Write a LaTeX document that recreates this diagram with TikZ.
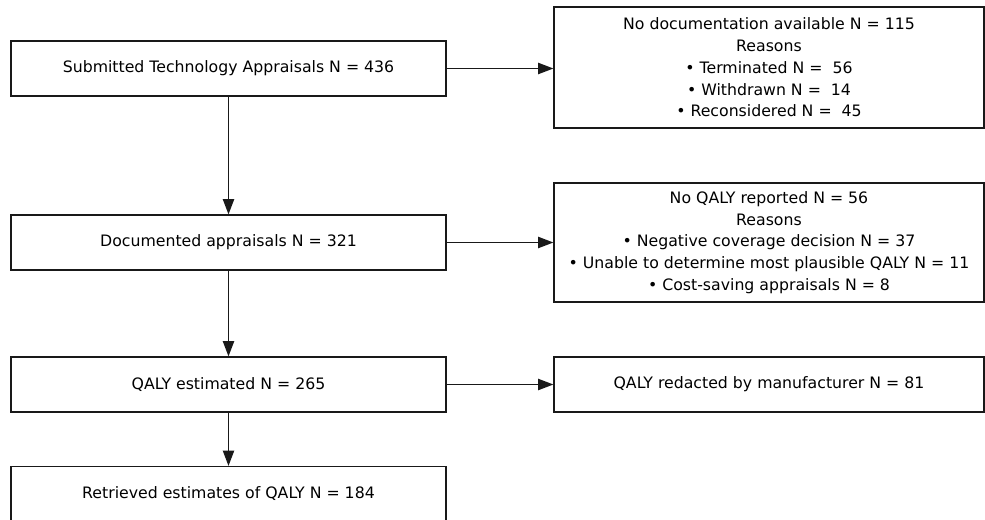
\documentclass[tikz,border=0pt]{standalone}
\usepackage{fontspec}
\setmainfont{DejaVu Sans}
\usetikzlibrary{arrows.meta}

\begin{document}
\begin{tikzpicture}[x=0.75pt,y=-0.75pt,
  box/.style={draw=black!90,line width=0.9pt,fill=white,align=center,
    inner sep=0pt,font=\fontsize{11.8}{16.3}\selectfont},
  leftbox/.style={box,minimum width=326.25pt,minimum height=41.25pt},
  flow/.style={draw=black!90,line width=0.9pt,-{Triangle[length=11.5pt,width=8.5pt]}}]
\useasboundingbox (0,0) rectangle (985,520);
% left column
\node[leftbox] (sub) at (228.5,68.5) {Submitted Technology Appraisals N = 436};
\node[leftbox] (doc) at (228.5,242.5) {Documented appraisals N = 321};
\node[leftbox] (est) at (228.5,384.5) {QALY estimated N = 265};
\node[leftbox] (ret) at (228.5,494) {Retrieved estimates of QALY N = 184};
% right column
\node[box,minimum width=322.5pt,minimum height=90.75pt] (nodoc) at (769,67.5) {No documentation available N = 115\\Reasons\\• Terminated N = \ 56\\• Withdrawn N = \ 14\\• Reconsidered N = \ 45};
\node[box,minimum width=322.5pt,minimum height=89.25pt] (noqaly) at (769,242.5) {No QALY reported N = 56\\Reasons\\• Negative coverage decision N = 37\\• Unable to determine most plausible QALY N = 11\\• Cost-saving appraisals N = 8};
\node[box,minimum width=322.5pt,minimum height=41.25pt] (red) at (769,384.5) {QALY redacted by manufacturer N = 81};
% connectors
\draw[flow] (sub) -- (doc);
\draw[flow] (doc) -- (est);
\draw[flow] (est) -- (ret);
\draw[flow] (sub.east) -- (sub.east -| nodoc.west);
\draw[flow] (doc.east) -- (doc.east -| noqaly.west);
\draw[flow] (est) -- (red);
\end{tikzpicture}
\end{document}
